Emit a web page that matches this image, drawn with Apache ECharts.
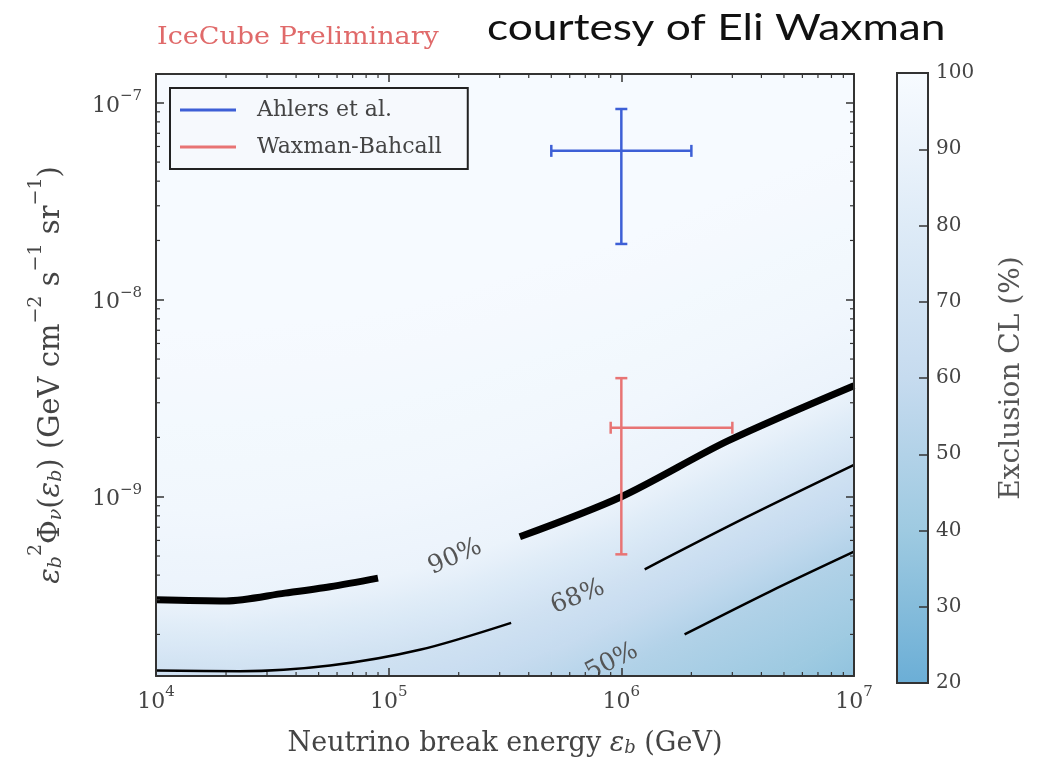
<!DOCTYPE html>
<html><head><meta charset="utf-8">
<script src="https://cdn.jsdelivr.net/npm/echarts@6/dist/echarts.min.js"></script>
<style>html,body{margin:0;padding:0;background:#fff}#c{width:1052px;height:762px}</style>
</head><body><div id="c"></div>
<script>
// ---------------- DATA ----------------
const xTickValues = [1e4, 1e5, 1e6, 1e7];
const xTickExps = ['4', '5', '6', '7'];
const yTickValues = [1e-9, 1e-8, 1e-7];
const yTickExps = ['\u22129', '\u22128', '\u22127'];
const minorMultipliers = [2, 3, 4, 5, 6, 7, 8, 9];
const xDecades = [1e4, 1e5, 1e6];
const yDecades = [1e-10, 1e-9, 1e-8, 1e-7];
const xRange = [1e4, 1e7];
const yRange = [1.23e-10, 1.4e-7];
const cbRange = [20, 100];

// error bars: [x, y, xLow, xHigh, yLow, yHigh]
const ahlers = [1e6, 5.7e-8, 5e5, 2e6, 1.92e-8, 9.3e-8];
const waxmanBahcall = [1e6, 2.24e-9, 9e5, 3e6, 5.1e-10, 4.0e-9];

// contour lines (visible segments)
const cl90a = [[1e4, 3.0e-10], [2e4, 2.96e-10], [3.58e4, 3.24e-10], [5.6e4, 3.49e-10], [9.0e4, 3.86e-10]];
const cl90b = [[3.66e5, 6.26e-10], [1e6, 1.0e-9], [2.87e6, 1.92e-9], [1e7, 3.66e-9]];
const cl68a = [[1e4, 1.31e-10], [2.3e4, 1.30e-10], [5.6e4, 1.39e-10], [1.36e5, 1.67e-10], [3.36e5, 2.29e-10]];
const cl68b = [[1.26e6, 4.28e-10], [3.4e6, 7.8e-10], [1e7, 1.45e-9]];
const cl50 = [[1.87e6, 2.0e-10], [4.35e6, 3.3e-10], [1e7, 5.26e-10]];

const contourLabelText = ['90%', '68%', '50%'];
const contourLabelX = [1.93e5, 6.5e5, 9.1e5];
const contourLabelY = [4.95e-10, 3.1e-10, 1.45e-10];

// background exclusion-CL field: flux of each CL level at fieldX
const fieldX = [1e4, 2e4, 5e4, 1e5, 2e5, 5e5, 1e6, 2e6, 5e6, 1e7];
const fieldLevels = [99, 95, 90, 80, 68, 60, 50, 40, 30];
const lev99 = [7.05e-9, 7.2e-9, 7.9e-9, 8.9e-9, 1.12e-8, 1.6e-8, 2.0e-8, 2.87e-8, 4.57e-8, 6.5e-8];
const lev95 = [8.6e-10, 8.4e-10, 9.66e-10, 1.11e-9, 1.37e-9, 2.04e-9, 2.77e-9, 4.16e-9, 7.05e-9, 1.02e-8];
const lev90 = [3.0e-10, 2.96e-10, 3.45e-10, 3.97e-10, 4.9e-10, 7.3e-10, 1.0e-9, 1.52e-9, 2.55e-9, 3.66e-9];
const lev80 = [2.08e-10, 2.04e-10, 2.28e-10, 2.62e-10, 3.17e-10, 4.73e-10, 6.49e-10, 9.71e-10, 1.65e-9, 2.42e-9];
const lev68 = [1.31e-10, 1.30e-10, 1.38e-10, 1.56e-10, 1.86e-10, 2.77e-10, 3.79e-10, 5.61e-10, 9.66e-10, 1.45e-9];
const lev60 = [6.8e-11, 6.9e-11, 7.5e-11, 8.7e-11, 1.09e-10, 1.67e-10, 2.4e-10, 3.61e-10, 6.19e-10, 9.3e-10];
const lev50 = [2.9e-11, 3.07e-11, 3.45e-11, 4.11e-11, 5.5e-11, 8.8e-11, 1.36e-10, 2.05e-10, 3.53e-10, 5.26e-10];
const lev40 = [7.6e-12, 8e-12, 9e-12, 1.14e-11, 1.6e-11, 3.3e-11, 5.2e-11, 7.8e-11, 1.29e-10, 2.07e-10];
const lev30 = [3.3e-12, 3.5e-12, 4e-12, 5e-12, 7.2e-12, 1.14e-11, 1.8e-11, 2.9e-11, 4.6e-11, 7.8e-11];

// ---------------- STYLE ----------------
const SERIF = 'DejaVu Serif';
const TXT = '#444';
const FRAME = '#333';
const labelRotation = [24, 22, 27];
const cmapStops = [[20,'#6baed6'],[30,'#85bcdb'],[40,'#9ecae1'],[50,'#b2d2e8'],[60,'#c6dbef'],[70,'#d2e3f3'],[80,'#deebf7'],[90,'#ebf3fb'],[100,'#f7fbff']];

function hex2rgb(h){return [parseInt(h.slice(1,3),16),parseInt(h.slice(3,5),16),parseInt(h.slice(5,7),16)];}
function cmap(v){
  v = Math.max(20, Math.min(100, v));
  for (let j = 0; j < cmapStops.length - 1; j++) {
    const a = cmapStops[j][0], b = cmapStops[j+1][0];
    if (v <= b) {
      const t = (v - a) / (b - a), A = hex2rgb(cmapStops[j][1]), B = hex2rgb(cmapStops[j+1][1]);
      return 'rgb(' + A.map((x, q) => Math.round(x + (B[q] - x) * t)).join(',') + ')';
    }
  }
  return cmapStops[cmapStops.length-1][1];
}

const levelArrays = [lev99, lev95, lev90, lev80, lev68, lev60, lev50, lev40, lev30];
const bandData = [];
for (let k = 0; k < levelArrays.length - 1; k++)
  for (let i = 0; i < fieldX.length - 1; i++)
    bandData.push([fieldX[i], levelArrays[k][i], fieldX[i+1], levelArrays[k][i+1], levelArrays[k+1][i+1], levelArrays[k+1][i], k]);

function renderBand(params, api){
  const p1 = api.coord([api.value(0), api.value(1)]);
  const p2 = api.coord([api.value(2), api.value(3)]);
  const p3 = api.coord([api.value(2), api.value(4)]);
  const p4 = api.coord([api.value(0), api.value(5)]);
  const k = api.value(6);
  const la = fieldLevels[k], lb = fieldLevels[k+1];
  let dx = (p2[0]-p1[0]) + (p3[0]-p4[0]);
  let dy = (p2[1]-p1[1]) + (p3[1]-p4[1]);
  const len = Math.hypot(dx, dy) || 1; dx /= len; dy /= len;
  let nx = -dy, ny = dx; if (ny < 0) { nx = -nx; ny = -ny; }
  const m1 = [(p1[0]+p2[0])/2, (p1[1]+p2[1])/2], m2 = [(p3[0]+p4[0])/2, (p3[1]+p4[1])/2];
  let d = (m2[0]-m1[0])*nx + (m2[1]-m1[1])*ny; if (Math.abs(d) < 1) d = 1;
  const stops = [];
  for (let s = 0; s <= 4; s++) stops.push({offset: s/4, color: cmap(la + (lb-la)*s/4)});
  const g = new echarts.graphic.LinearGradient(m1[0], m1[1], m1[0]+nx*d, m1[1]+ny*d, stops, true);
  return {type:'polygon', shape:{points:[p1,p2,p3,p4]}, style:{fill:g, stroke:g, lineWidth:1}, silent:true};
}

function renderErr(params, api){
  const x = api.value(0), y = api.value(1);
  const c = api.coord([x, y]), xl = api.coord([api.value(2), y]), xh = api.coord([api.value(3), y]);
  const yl = api.coord([x, api.value(4)]), yh = api.coord([x, api.value(5)]);
  const st = {stroke: api.visual('color'), lineWidth: 2.5};
  const cw = 6;
  const L = (a, b, e, f) => ({type:'line', shape:{x1:a, y1:b, x2:e, y2:f}, style:st});
  return {type:'group', children:[
    L(xl[0], c[1], xh[0], c[1]), L(c[0], yl[1], c[0], yh[1]),
    L(xl[0], c[1]-cw, xl[0], c[1]+cw), L(xh[0], c[1]-cw, xh[0], c[1]+cw),
    L(c[0]-cw, yl[1], c[0]+cw, yl[1]), L(c[0]-cw, yh[1], c[0]+cw, yh[1])
  ]};
}

function renderLabel(params, api){
  const p = api.coord([api.value(0), api.value(1)]);
  const idx = api.value(2);
  return {type:'text', x:p[0], y:p[1], rotation: labelRotation[idx]*Math.PI/180,
    style:{text: contourLabelText[idx], fontFamily: SERIF, fontSize: 25, fill:'#555', align:'center', verticalAlign:'middle'}};
}

function renderMinor(params, api){
  const cs = params.coordSys;
  const x0 = cs.x, y0 = cs.y, w = cs.width, h = cs.height, t = 4;
  const st = {stroke: FRAME, lineWidth: 1.2};
  const ch = [];
  xDecades.forEach(dec => minorMultipliers.forEach(m => {
    const v = dec*m; if (v <= xRange[0] || v >= xRange[1]) return;
    const px = api.coord([v, yTickValues[0]])[0];
    ch.push({type:'line', shape:{x1:px, y1:y0+h, x2:px, y2:y0+h-t}, style:st});
    ch.push({type:'line', shape:{x1:px, y1:y0, x2:px, y2:y0+t}, style:st});
  }));
  yDecades.forEach(dec => minorMultipliers.forEach(m => {
    const v = dec*m; if (v <= yRange[0] || v >= yRange[1]) return;
    const py = api.coord([xTickValues[0], v])[1];
    ch.push({type:'line', shape:{x1:x0, y1:py, x2:x0+t, y2:py}, style:st});
    ch.push({type:'line', shape:{x1:x0+w, y1:py, x2:x0+w-t, y2:py}, style:st});
  }));
  return {type:'group', children: ch};
}

function renderColorbar(params, api){
  const pb = api.coord([api.value(0), api.value(1)]);
  const pt = api.coord([api.value(2), api.value(3)]);
  const stops = cmapStops.map(s => ({offset:(s[0]-cbRange[0])/(cbRange[1]-cbRange[0]), color:s[1]}));
  return {type:'rect', shape:{x:pb[0], y:pt[1], width:pt[0]-pb[0], height:pb[1]-pt[1]},
    style:{fill: new echarts.graphic.LinearGradient(0,1,0,0,stops), stroke: FRAME, lineWidth: 2}};
}

function idxOfPow(list, v){
  const lv = Math.log10(v);
  for (let i = 0; i < list.length; i++) if (Math.abs(Math.log10(list[i]) - lv) < 1e-6) return i;
  return -1;
}
const tickRich = {
  b: {fontFamily: SERIF, fontSize: 22, color: TXT, lineHeight: 28, verticalAlign: 'bottom'},
  s: {fontFamily: SERIF, fontSize: 15, color: TXT, lineHeight: 17, verticalAlign: 'top'}
};
function nameRich(fs){
  const ss = Math.round(fs*0.66), lh = Math.round(fs*1.35);
  return {
    n: {fontFamily: SERIF, fontSize: fs, color: TXT, lineHeight: lh, verticalAlign: 'bottom'},
    it: {fontFamily: SERIF, fontStyle: 'italic', fontSize: fs, color: TXT, lineHeight: lh, verticalAlign: 'bottom'},
    sub: {fontFamily: SERIF, fontStyle: 'italic', fontSize: ss, color: TXT, lineHeight: Math.round(ss*1.05), verticalAlign: 'bottom'},
    sup: {fontFamily: SERIF, fontSize: ss, color: TXT, lineHeight: Math.round(ss*1.2), verticalAlign: 'top'}
  };
}
const axLine = {show: true, onZero: false, lineStyle: {color: FRAME, width: 2}};
const axTick = {show: true, inside: true, length: 8, lineStyle: {color: FRAME, width: 1.5}};

const contour = (data, width) => ({type:'line', data, symbol:'none', showSymbol:false, smooth:0.3,
  lineStyle:{color:'#000', width}, z:5, silent:true, clip:true});

const chart = echarts.init(document.getElementById('c'));
chart.setOption({
  animation: false,
  backgroundColor: '#fff',
  graphic: [
    {type:'text', x:157, y:25, scaleX:1.08, style:{text:'IceCube Preliminary', fontFamily:SERIF, fontSize:25, fill:'#e06a6a', align:'left', verticalAlign:'top'}},
    {type:'text', x:487, y:10, scaleX:1.23, style:{text:'courtesy of Eli Waxman', fontFamily:'Lato', fontSize:36, fill:'#111', align:'left', verticalAlign:'top'}}
  ],
  grid: [
    {left:156, right:198, top:74, bottom:86, show:true, backgroundColor: cmap(99), borderWidth:0},
    {left:897, width:31, top:73, bottom:79}
  ],
  legend: {
    left:170, top:88, orient:'vertical', padding:[11,26,11,10], itemGap:15, itemWidth:56, itemHeight:3,
    borderColor:'#222', borderWidth:2, backgroundColor:'#f6f9fd',
    textStyle:{fontFamily:SERIF, fontSize:22, color:TXT, padding:[0,0,0,16]},
    data:[{name:'Ahlers et al.', icon:'rect'}, {name:'Waxman-Bahcall', icon:'rect'}]
  },
  xAxis: [
    {type:'log', logBase:10, min:xRange[0], max:xRange[1], gridIndex:0, position:'bottom', z:10,
     axisLine:axLine, axisTick:axTick, splitLine:{show:false},
     axisLabel:{margin:9, rich:tickRich, formatter: v => { const i = idxOfPow(xTickValues, v); return i < 0 ? '' : '{b|10}{s|' + xTickExps[i] + '}'; }},
     name:'{n|Neutrino break energy }{it|\u03b5}{sub|b}{n| (GeV)}', nameLocation:'middle', nameGap:45, nameTextStyle:{rich:nameRich(27)}},
    {type:'log', logBase:10, min:xRange[0], max:xRange[1], gridIndex:0, position:'top', z:10,
     axisLine:axLine, axisTick:axTick, axisLabel:{show:false}, splitLine:{show:false}},
    {type:'value', gridIndex:1, min:0, max:1, show:false}
  ],
  yAxis: [
    {type:'log', logBase:10, min:yRange[0], max:yRange[1], gridIndex:0, position:'left', z:10,
     axisLine:axLine, axisTick:axTick, splitLine:{show:false},
     axisLabel:{margin:14, rich:tickRich, formatter: v => { const i = idxOfPow(yTickValues, v); return i < 0 ? '' : '{b|10}{s|' + yTickExps[i] + '}'; }},
     name:'{it|\u03b5}{sub|b}{sup|2}{n|\u03a6}{sub|\u03bd}{n|(}{it|\u03b5}{sub|b}{n|) (GeV cm}{sup|\u22122}{n| s}{sup|\u22121}{n| sr}{sup|\u22121}{n|)}',
     nameLocation:'middle', nameGap:90, nameRotate:90, nameTextStyle:{rich:nameRich(29)}},
    {type:'log', logBase:10, min:yRange[0], max:yRange[1], gridIndex:0, position:'right', z:10,
     axisLine:axLine, axisTick:axTick, axisLabel:{show:false}, splitLine:{show:false}},
    {type:'value', gridIndex:1, min:cbRange[0], max:cbRange[1], interval:10, position:'right', z:10,
     axisLine:axLine, axisTick:{show:true, inside:true, length:9, lineStyle:{color:FRAME, width:1.5}}, splitLine:{show:false},
     axisLabel:{margin:8, fontFamily:SERIF, fontSize:20, color:TXT},
     name:'Exclusion CL (%)', nameLocation:'middle', nameGap:70, nameRotate:90,
     nameTextStyle:{fontFamily:SERIF, fontSize:28, color:'#555'}}
  ],
  series: [
    {type:'custom', data:bandData, encode:{x:[0,2], y:[1,3,4,5]}, renderItem:renderBand, clip:true, silent:true, z:1},
    contour(cl90a, 7), contour(cl90b, 7), contour(cl68a, 2.5), contour(cl68b, 2.5), contour(cl50, 2.5),
    {type:'custom', data: contourLabelText.map((t, i) => [contourLabelX[i], contourLabelY[i], i]), encode:{x:0, y:1},
     renderItem:renderLabel, clip:true, silent:true, z:5},
    {type:'custom', name:'Ahlers et al.', data:[ahlers], encode:{x:[0,2,3], y:[1,4,5]}, renderItem:renderErr,
     itemStyle:{color:'#3d5fd6'}, z:6, clip:false},
    {type:'custom', name:'Waxman-Bahcall', data:[waxmanBahcall], encode:{x:[0,2,3], y:[1,4,5]}, renderItem:renderErr,
     itemStyle:{color:'#e87474'}, z:6, clip:false},
    {type:'custom', data:[[xTickValues[1], yTickValues[0]]], encode:{x:0, y:1}, renderItem:renderMinor, clip:false, silent:true, z:11},
    {type:'custom', xAxisIndex:2, yAxisIndex:2, data:[[0, cbRange[0], 1, cbRange[1]]], encode:{x:[0,2], y:[1,3]},
     renderItem:renderColorbar, clip:false, silent:true, z:2}
  ]
});
</script></body></html>
